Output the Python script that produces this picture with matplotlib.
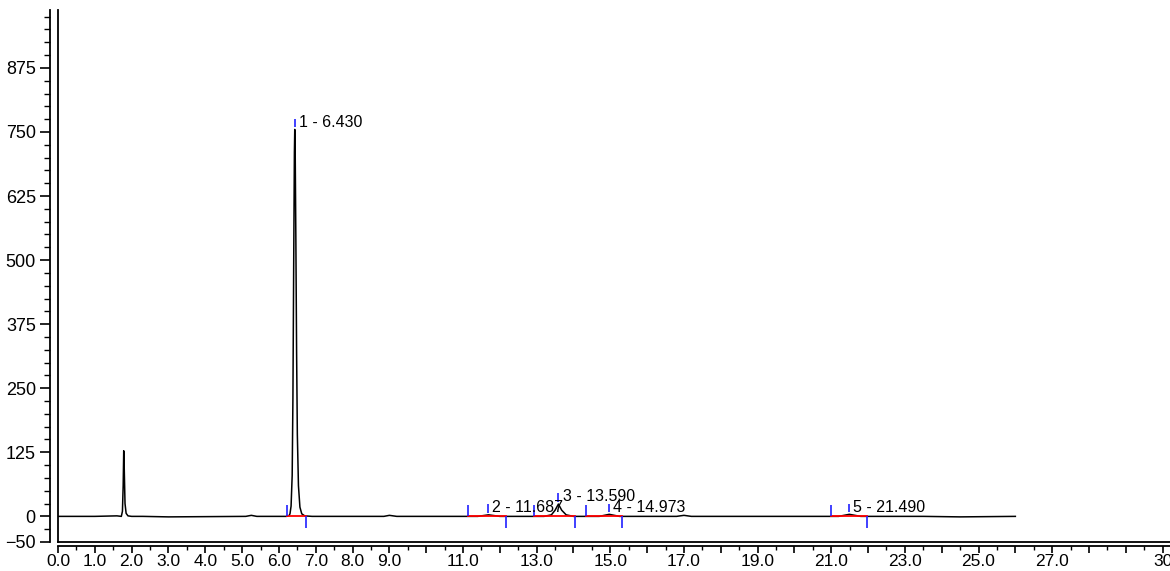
import matplotlib
matplotlib.use('Agg')
import matplotlib.pyplot as plt
from matplotlib.ticker import MultipleLocator, FixedLocator, FixedFormatter

plt.rcParams['font.family'] = ['Liberation Sans', 'DejaVu Sans']

# chromatogram trace (time in min, signal)
time = [0.0, 1.0, 1.60, 1.72, 1.75, 1.77, 1.785, 1.80, 1.82, 1.85, 1.90, 2.00,
        2.30, 3.00, 5.10, 5.25, 5.40, 6.20, 6.27, 6.30, 6.33, 6.36, 6.38, 6.40,
        6.42, 6.43, 6.44, 6.46, 6.48, 6.50, 6.53, 6.57, 6.62, 6.70, 6.90, 8.85,
        9.00, 9.20, 11.40, 11.69, 12.00, 13.20, 13.40, 13.50, 13.59, 13.68,
        13.80, 14.00, 14.70, 14.97, 15.25, 16.80, 17.00, 17.20, 21.20, 21.49,
        21.80, 23.50, 24.50, 26.00]
signal = [0, 0, 1, 0, 10, 60, 128, 90, 25, 6, 1, 0,
          0, -1, 0, 2, 0, 0, 1, 5, 20, 80, 230, 480,
          710, 755, 730, 540, 320, 160, 60, 18, 5, 1, 0, 0,
          2, 0, 0, 3, 0, 0, 3, 12, 24, 12,
          3, 0, 0, 4, 0, 0, 2, 0, 0, 4,
          0, 0, -1, 0]

# integrated peaks
peak_names = ['1 - 6.430', '2 - 11.687', '3 - 13.590', '4 - 14.973', '5 - 21.490']
peak_rt = [6.43, 11.687, 13.59, 14.973, 21.49]
peak_height = [755, 3, 24, 4, 4]
peak_start = [6.22, 11.14, 12.93, 14.35, 20.98]
peak_end = [6.74, 12.17, 14.05, 15.33, 21.98]

x_ticks = list(range(0, 31))
x_labels = ['0.0', '1.0', '2.0', '3.0', '4.0', '5.0', '6.0', '7.0', '8.0', '9.0',
            '', '11.0', '', '13.0', '', '15.0', '', '17.0', '', '19.0', '',
            '21.0', '', '23.0', '', '25.0', '', '27.0', '', '', '30']
y_ticks = [-50, 0, 125, 250, 375, 500, 625, 750, 875]

fig = plt.figure(figsize=(11.7, 5.71), dpi=100)
ax = fig.add_axes([58 / 1170, 29 / 571, 1112 / 1170, 532 / 571])

ax.plot(time, signal, color='black', lw=1.1)

for s, e in zip(peak_start, peak_end):
    ax.plot([s, e], [0, 0], color='red', lw=1.3)
ax.vlines(peak_start, 0, 22, color='#2020ff', lw=1.2)
ax.vlines(peak_end, -22, 0, color='#2020ff', lw=1.2)
for name, rt, h in zip(peak_names, peak_rt, peak_height):
    ax.vlines(rt, h + 4, h + 21, color='#2020ff', lw=1.2)
    ax.annotate(name, (rt, h + 14), xytext=(3, 0), textcoords='offset points',
                va='center', ha='left', fontsize=11.5)

ax.set_xlim(0, 30.2)
ax.set_ylim(-50, 988)

for side in ['top', 'right']:
    ax.spines[side].set_visible(False)
ax.spines['left'].set_position(('outward', 6))
ax.spines['bottom'].set_position(('outward', 3))
ax.spines['left'].set_linewidth(1.3)
ax.spines['bottom'].set_linewidth(1.3)
# inner frame lines
ax.plot([0, 0], [0, 1], transform=ax.transAxes, color='black', lw=1.3, clip_on=False)
ax.plot([0, 1], [0, 0], transform=ax.transAxes, color='black', lw=1.3, clip_on=False)

ax.xaxis.set_major_locator(FixedLocator(x_ticks))
ax.xaxis.set_major_formatter(FixedFormatter(x_labels))
ax.xaxis.set_minor_locator(MultipleLocator(0.5))
ax.yaxis.set_major_locator(FixedLocator(y_ticks))
ax.yaxis.set_minor_locator(MultipleLocator(25))

ax.tick_params(axis='x', which='major', length=5, width=1.2, pad=1, labelsize=12.5)
ax.tick_params(axis='x', which='minor', length=3, width=1.0)
ax.tick_params(axis='y', which='major', length=7, width=1.2, pad=3, labelsize=13)
ax.tick_params(axis='y', which='minor', length=4, width=1.0)

fig.savefig('out.png', dpi=100)
